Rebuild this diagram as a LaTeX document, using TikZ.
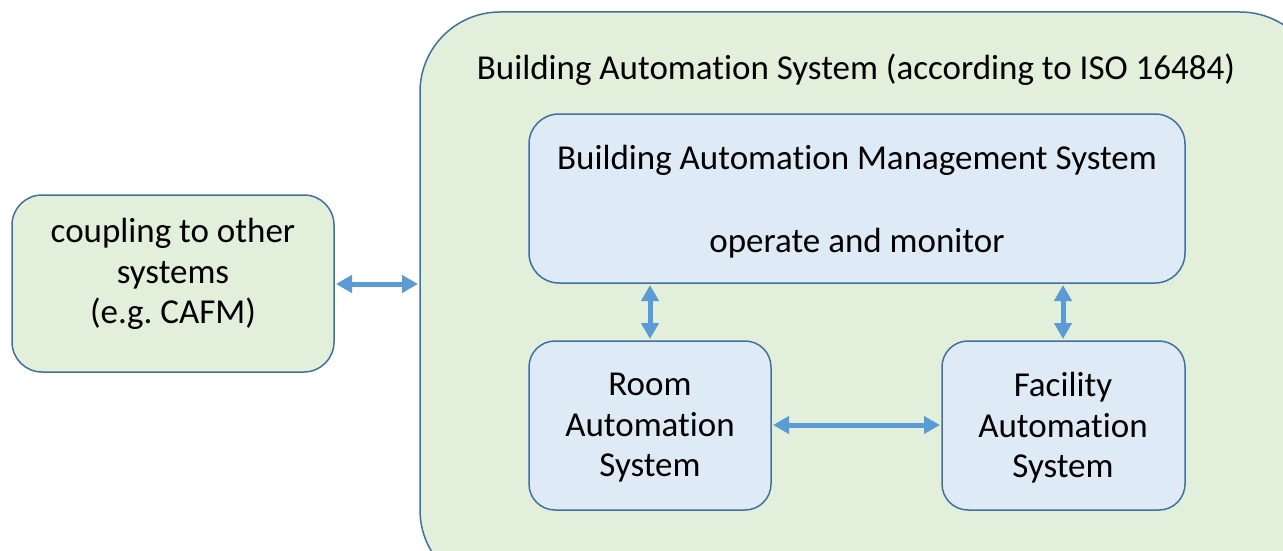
\documentclass[tikz,border=0pt]{standalone}
\usepackage{fontspec}
\setmainfont[Ligatures={NoCommon}]{Carlito}
\usetikzlibrary{arrows.meta}
\frenchspacing
\definecolor{gfill}{HTML}{E2EFDA}
\definecolor{bfill}{HTML}{DEEBF7}
\definecolor{edge}{HTML}{41719C}
\definecolor{arr}{HTML}{5B9BD5}
\tikzset{
  box/.style={draw=edge, line width=1.5pt},
  lbl/.style={font=\fontsize{35}{40.5}\selectfont, align=center, text=black},
  link/.style={draw=arr, line width=5pt, {Triangle[length=16pt,width=17pt]}-{Triangle[length=16pt,width=17pt]}, shorten <=1pt, shorten >=1pt},
}
\begin{document}
\begin{tikzpicture}[x=1pt,y=-1pt]
\useasboundingbox (0,0) rectangle (1283,551);
\fill[white] (0,0) rectangle (1283,551);
\begin{scope}
\clip (0,0) rectangle (1283,551);
\draw[box, fill=gfill, rounded corners=80pt] (420,12) rectangle (1320,590);
\end{scope}
\node[lbl] (title) at (856,70) {Building Automation System (according to ISO 16484)};
\draw[box, fill=gfill, rounded corners=30pt] (12,195) rectangle (334,372);
\node[lbl] (left) at (173,274) {coupling to other\\systems\\(e.g. CAFM)};
\draw[box, fill=bfill, rounded corners=30pt] (529,114) rectangle (1185,283);
\node[lbl] at (857,160) {Building Automation Management System};
\node[lbl] at (857,243) {operate and monitor};
\draw[box, fill=bfill, rounded corners=26pt] (529,341) rectangle (771,510);
\node[lbl] at (650,428) {Room\\Automation\\System};
\draw[box, fill=bfill, rounded corners=26pt] (942,341) rectangle (1185,510);
\node[lbl] at (1063,428) {Facility\\Automation\\System};
% anchors for connectors
\coordinate (lR) at (335,284);
\coordinate (oL) at (419,284);
\coordinate (bamsL) at (650,284);
\coordinate (roomT) at (650,340);
\coordinate (bamsR) at (1063,284);
\coordinate (facT) at (1063,340);
\coordinate (roomR) at (772,425);
\coordinate (facL) at (941,425);
\draw[link] (lR) -- (oL);
\draw[link] (bamsL) -- (roomT);
\draw[link] (bamsR) -- (facT);
\draw[link] (roomR) -- (facL);
\end{tikzpicture}
\end{document}
